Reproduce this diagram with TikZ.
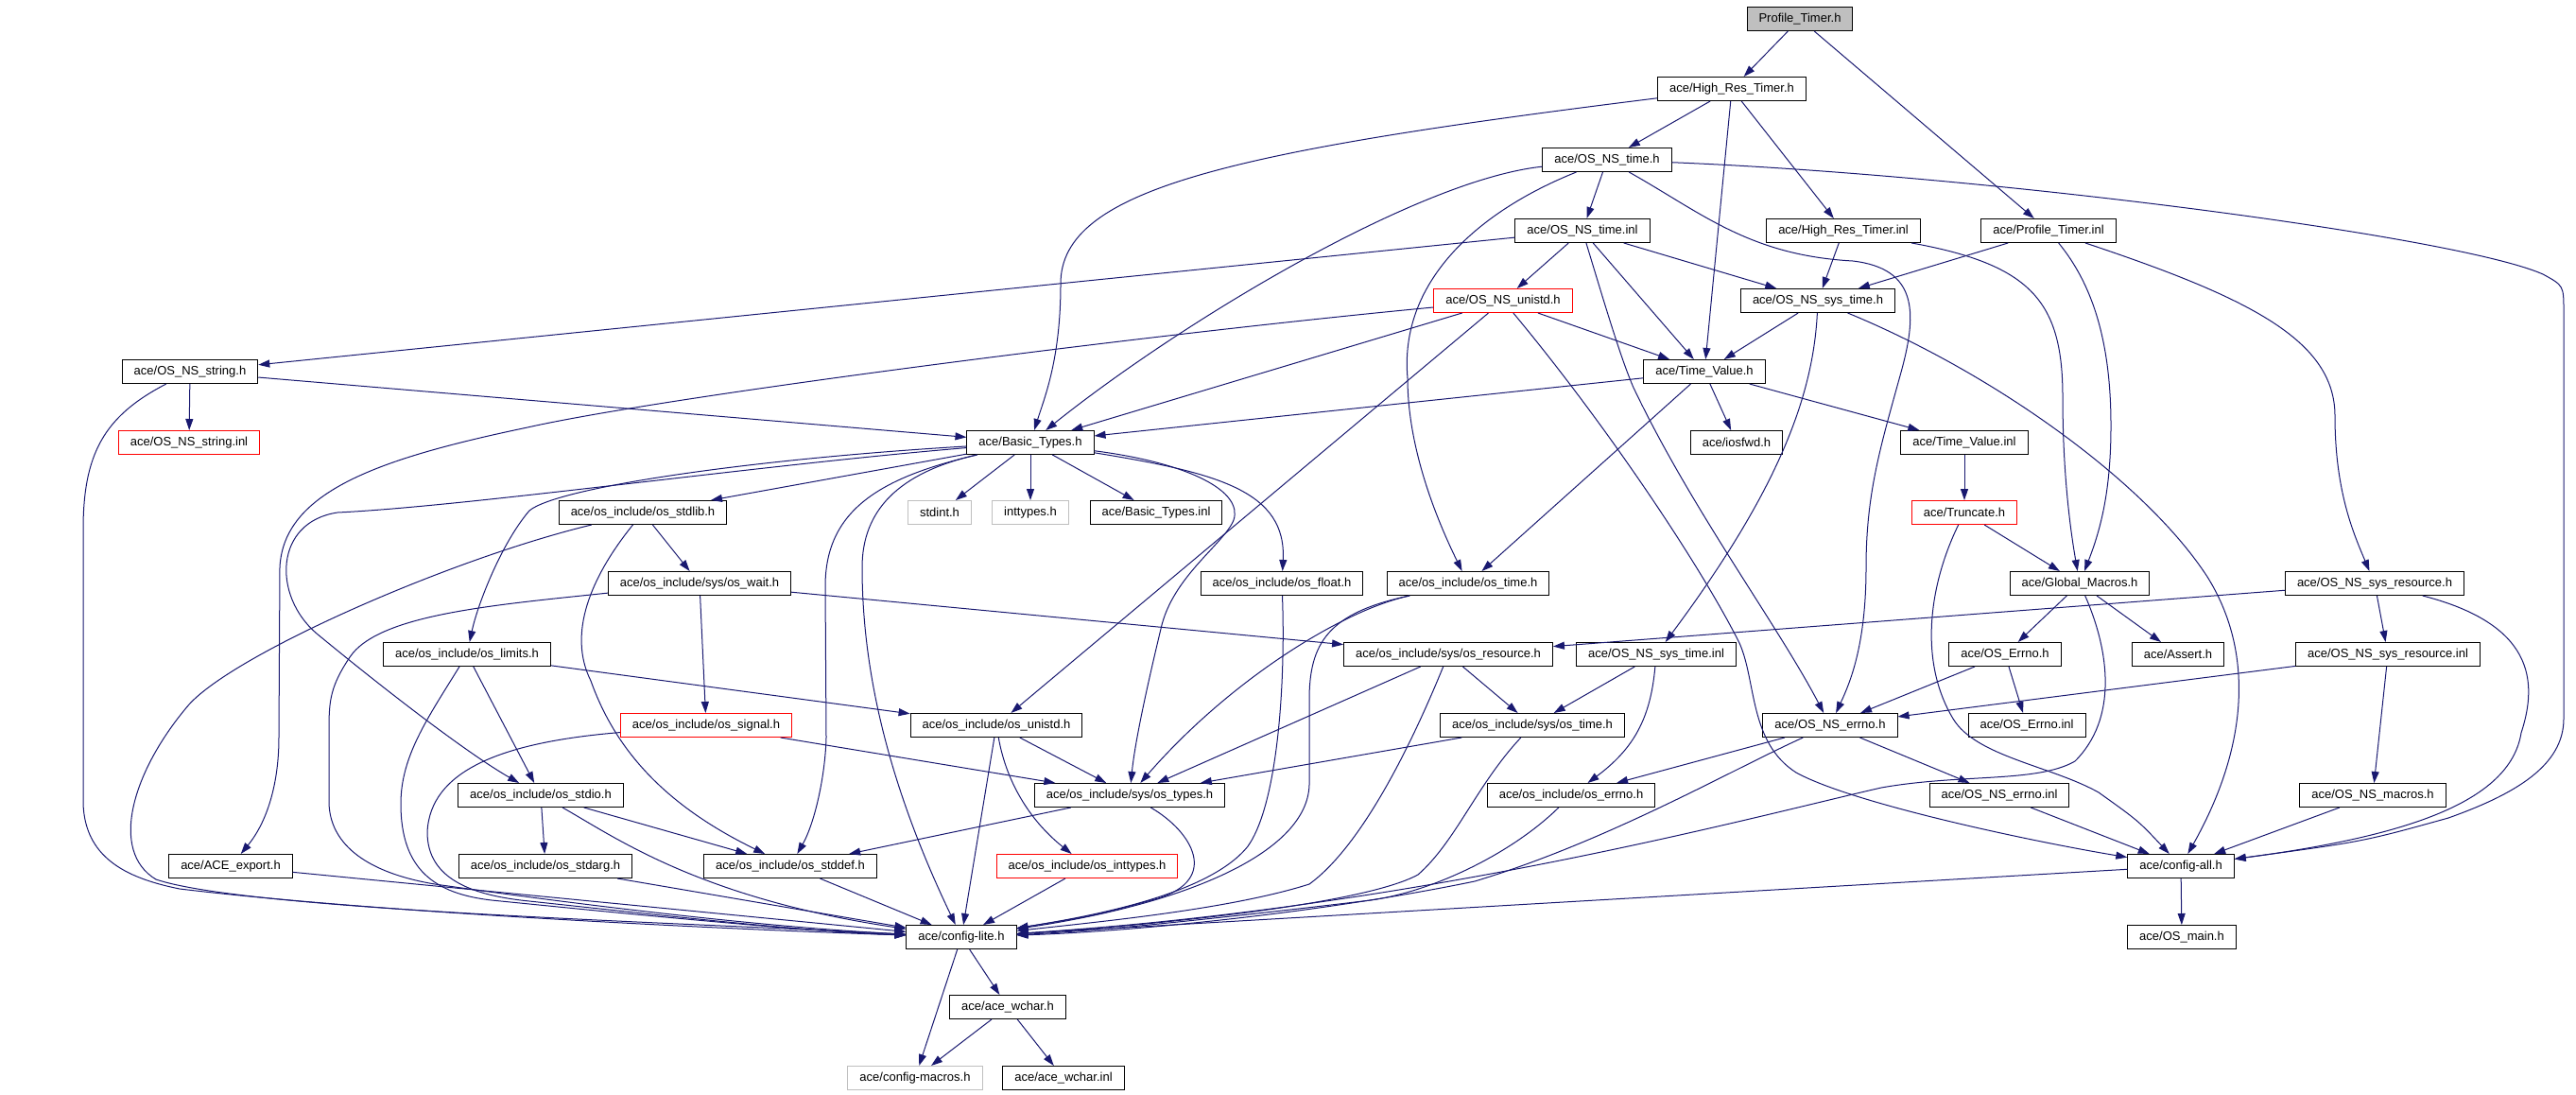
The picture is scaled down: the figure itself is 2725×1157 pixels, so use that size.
\documentclass[tikz,border=0pt]{standalone}
\usepackage{fontspec}
\setmainfont{Liberation Sans}
\usetikzlibrary{arrows.meta}
\definecolor{edgeblue}{RGB}{25,25,112}
\definecolor{boxgrey}{RGB}{191,191,191}

\begin{document}
\begin{tikzpicture}[x=1pt,y=-1pt,
  box/.style={draw=black,line width=1pt,fill=white,inner xsep=12.5pt,inner ysep=2pt,
    minimum height=25pt,font=\fontsize{13pt}{15pt}\selectfont},
  redbox/.style={box,draw=red},
  greybox/.style={box,draw=boxgrey},
  topbox/.style={box,fill=boxgrey},
  edge/.style={draw=edgeblue,line width=1pt,-{Triangle[length=12pt,width=8pt]}}]
\useasboundingbox (0,0) rectangle (2725,1157);

% rows of the include graph
\node[topbox] (pt) at (1904,20) {Profile\_Timer.h};
\node[box] (hrt) at (1832,94) {ace/High\_Res\_Timer.h};
\node[box] (nstime) at (1700,169) {ace/OS\_NS\_time.h};
\node[box] (nstimeinl) at (1674,244) {ace/OS\_NS\_time.inl};
\node[box] (hrtinl) at (1950,244) {ace/High\_Res\_Timer.inl};
\node[box] (ptinl) at (2167,244) {ace/Profile\_Timer.inl};
\node[redbox] (nsunistd) at (1590,318) {ace/OS\_NS\_unistd.h};
\node[box] (nssystime) at (1923,318) {ace/OS\_NS\_sys\_time.h};
\node[box] (nsstring) at (201,393) {ace/OS\_NS\_string.h};
\node[box] (tv) at (1803,393) {ace/Time\_Value.h};
\node[redbox] (nsstringinl) at (200,468) {ace/OS\_NS\_string.inl};
\node[box] (bt) at (1090,468) {ace/Basic\_Types.h};
\node[box] (iosfwd) at (1837,468) {ace/iosfwd.h};
\node[box] (tvinl) at (2078,468) {ace/Time\_Value.inl};
\node[box] (stdlib) at (680,542) {ace/os\_include/os\_stdlib.h};
\node[greybox] (stdint) at (994,542) {stdint.h};
\node[greybox] (inttypes) at (1090,542) {inttypes.h};
\node[box] (btinl) at (1223,542) {ace/Basic\_Types.inl};
\node[redbox] (trunc) at (2078,542) {ace/Truncate.h};
\node[box] (wait) at (740,617) {ace/os\_include/sys/os\_wait.h};
\node[box] (float) at (1356,617) {ace/os\_include/os\_float.h};
\node[box] (ostime) at (1553,617) {ace/os\_include/os\_time.h};
\node[box] (gm) at (2200,617) {ace/Global\_Macros.h};
\node[box] (nssysres) at (2512,617) {ace/OS\_NS\_sys\_resource.h};
\node[box] (limits) at (494,692) {ace/os\_include/os\_limits.h};
\node[box] (resource) at (1532,692) {ace/os\_include/sys/os\_resource.h};
\node[box] (nssystimeinl) at (1752,692) {ace/OS\_NS\_sys\_time.inl};
\node[box] (errnoh) at (2121,692) {ace/OS\_Errno.h};
\node[box] (assert) at (2304,692) {ace/Assert.h};
\node[box] (nssysresinl) at (2526,692) {ace/OS\_NS\_sys\_resource.inl};
\node[redbox] (signal) at (747,767) {ace/os\_include/os\_signal.h};
\node[box] (unistd) at (1054,767) {ace/os\_include/os\_unistd.h};
\node[box] (systime) at (1621,767) {ace/os\_include/sys/os\_time.h};
\node[box] (nserrno) at (1936,767) {ace/OS\_NS\_errno.h};
\node[box] (errnoinl) at (2144,767) {ace/OS\_Errno.inl};
\node[box] (stdio) at (572,841) {ace/os\_include/os\_stdio.h};
\node[box] (types) at (1195,841) {ace/os\_include/sys/os\_types.h};
\node[box] (oserrno) at (1662,841) {ace/os\_include/os\_errno.h};
\node[box] (nserrnoinl) at (2115,841) {ace/OS\_NS\_errno.inl};
\node[box] (nsmacros) at (2510,841) {ace/OS\_NS\_macros.h};
\node[box] (export) at (244,916) {ace/ACE\_export.h};
\node[box] (stdarg) at (577,916) {ace/os\_include/os\_stdarg.h};
\node[box] (stddef) at (836,916) {ace/os\_include/os\_stddef.h};
\node[redbox] (inttypesh) at (1150,916) {ace/os\_include/os\_inttypes.h};
\node[box] (configall) at (2307,916) {ace/config-all.h};
\node[box] (configlite) at (1017,991) {ace/config-lite.h};
\node[box] (osmain) at (2308,991) {ace/OS\_main.h};
\node[box] (wchar) at (1066,1065) {ace/ace\_wchar.h};
\node[greybox] (macros) at (968,1140) {ace/config-macros.h};
\node[box] (wcharinl) at (1125,1140) {ace/ace\_wchar.inl};

% straight includes
\draw[edge] (pt) -- (hrt);
\draw[edge] (pt) -- (ptinl);
\draw[edge] (hrt) -- (nstime);
\draw[edge] (hrt) -- (tv);
\draw[edge] (hrt) -- (hrtinl);
\draw[edge] (nstime) -- (nstimeinl);
\draw[edge] (nstimeinl) -- (nsunistd);
\draw[edge] (nstimeinl) -- (nssystime);
\draw[edge] (nstimeinl) -- (tv);
\draw[edge] (nstimeinl) -- (nsstring);
\draw[edge] (hrtinl) -- (nssystime);
\draw[edge] (ptinl) -- (nssystime);
\draw[edge] (nsunistd) -- (tv);
\draw[edge] (nsunistd) -- (bt);
\draw[edge] (nsunistd) -- (unistd);
\draw[edge] (nssystime) -- (tv);
\draw[edge] (nsstring) -- (nsstringinl);
\draw[edge] (nsstring) -- (bt);
\draw[edge] (tv) -- (bt);
\draw[edge] (tv) -- (iosfwd);
\draw[edge] (tv) -- (tvinl);
\draw[edge] (tv) -- (ostime);
\draw[edge] (tvinl) -- (trunc);
\draw[edge] (trunc) -- (gm);
\draw[edge] (bt) -- (stdint);
\draw[edge] (bt) -- (inttypes);
\draw[edge] (bt) -- (btinl);
\draw[edge] (bt) -- (stdlib);
\draw[edge] (stdlib) -- (wait);
\draw[edge] (wait) -- (signal);
\draw[edge] (wait) -- (resource);
\draw[edge] (gm) -- (errnoh);
\draw[edge] (gm) -- (assert);
\draw[edge] (nssysres) -- (nssysresinl);
\draw[edge] (nssysres) -- (resource);
\draw[edge] (limits) -- (unistd);
\draw[edge] (limits) -- (stdio);
\draw[edge] (resource) -- (systime);
\draw[edge] (resource) -- (types);
\draw[edge] (nssystimeinl) -- (systime);
\draw[edge] (errnoh) -- (errnoinl);
\draw[edge] (errnoh) -- (nserrno);
\draw[edge] (nssysresinl) -- (nserrno);
\draw[edge] (nssysresinl) -- (nsmacros);
\draw[edge] (signal) -- (types);
\draw[edge] (unistd) -- (types);
\draw[edge] (unistd) -- (configlite);
\draw[edge] (systime) -- (types);
\draw[edge] (nserrno) -- (oserrno);
\draw[edge] (nserrno) -- (nserrnoinl);
\draw[edge] (types) -- (stddef);
\draw[edge] (stdio) -- (stdarg);
\draw[edge] (stdio) -- (stddef);
\draw[edge] (stdarg) -- (configlite);
\draw[edge] (stddef) -- (configlite);
\draw[edge] (inttypesh) -- (configlite);
\draw[edge] (export) -- (configlite);
\draw[edge] (configall) -- (configlite);
\draw[edge] (configall) -- (osmain);
\draw[edge] (nserrnoinl) -- (configall);
\draw[edge] (nsmacros) -- (configall);
\draw[edge] (configlite) -- (wchar);
\draw[edge] (configlite) -- (macros);
\draw[edge] (wchar) -- (macros);
\draw[edge] (wchar) -- (wcharinl);

% curved includes
\draw[edge] (hrt) .. controls (1300,160) and (1122,200) .. (1122,300) .. controls (1122,380) and (1105,420) .. (bt);
\draw[edge] (nstime) .. controls (1500,190) and (1250,340) .. (bt);
\draw[edge] (nstime) .. controls (1560,225) and (1480,300) .. (1489,400) .. controls (1489,480) and (1525,560) .. (ostime);
\draw[edge] (nstime) .. controls (1800,225) and (1850,270) .. (1960,276) .. controls (2028,284) and (2028,330) .. (2012,390)
  .. controls (1990,470) and (1974,520) .. (1974,600) .. controls (1974,680) and (1958,720) .. (nserrno);
\draw[edge] (nstime) .. controls (2100,185) and (2600,250) .. (2690,290) .. controls (2712,302) .. (2712,330) -- (2712,760)
  .. controls (2712,810) and (2660,840) .. (2590,865) .. controls (2500,890) .. (configall);
\draw[edge] (nstimeinl) .. controls (1700,330) and (1715,380) .. (1728,410) .. controls (1790,540) and (1880,660) .. (nserrno);
\draw[edge] (hrtinl) .. controls (2150,280) and (2182,320) .. (2182,420) .. controls (2182,500) and (2190,560) .. (gm);
\draw[edge] (ptinl) .. controls (2213,300) and (2233,360) .. (2233,450) .. controls (2233,520) and (2222,560) .. (gm);
\draw[edge] (ptinl) .. controls (2380,315) and (2470,360) .. (2470,440) .. controls (2470,520) and (2490,565) .. (nssysres);
\draw[edge] (nsunistd) .. controls (1700,450) and (1800,600) .. (1840,680) .. controls (1858,720) and (1850,785) .. (1900,817)
  .. controls (1960,850) and (2150,890) .. (configall);
\draw[edge] (nsunistd) .. controls (1200,355) and (700,420) .. (558,452) .. controls (400,485) and (300,520) .. (296,600)
  -- (295,780) .. controls (295,830) and (282,870) .. (export);
\draw[edge] (nssystime) .. controls (1918,420) and (1880,520) .. (nssystimeinl);
\draw[edge] (nssystime) .. controls (2110,395) and (2270,510) .. (2335,610) .. controls (2385,690) and (2378,790) .. (configall);
\draw[edge] (nsstring) .. controls (110,440) and (88,480) .. (88,560) -- (88,850) .. controls (90,905) and (130,928) .. (190,940)
  .. controls (400,965) and (750,982) .. (configlite);
\draw[edge] (trunc) .. controls (2040,620) and (2030,700) .. (2066,760) .. controls (2090,800) and (2170,810) .. (2220,838)
  .. controls (2262,868) .. (configall);
\draw[edge] (bt) .. controls (800,485) and (590,515) .. (560,540) .. controls (530,575) and (505,640) .. (limits);
\draw[edge] (bt) .. controls (800,492) and (500,535) .. (357,542) .. controls (290,552) and (288,630) .. (335,670)
  .. controls (420,740) and (500,800) .. (stdio);
\draw[edge] (bt) .. controls (930,505) and (873,540) .. (873,620) -- (874,780) .. controls (873,820) and (862,870) .. (stddef);
\draw[edge] (bt) .. controls (950,500) and (912,540) .. (912,600) .. controls (912,700) and (935,820) .. (configlite);
\draw[edge] (bt) .. controls (1260,490) and (1315,520) .. (1305,550) .. controls (1295,575) and (1240,610) .. (1228,665)
  .. controls (1210,740) and (1200,790) .. (types);
\draw[edge] (bt) .. controls (1290,500) and (1361,520) .. (float);
\draw[edge] (stdlib) .. controls (480,590) and (250,690) .. (200,745) .. controls (140,815) and (115,900) .. (165,930)
  .. controls (260,962) and (700,975) .. (configlite);
\draw[edge] (stdlib) .. controls (625,610) and (600,670) .. (625,720) .. controls (650,790) and (700,850) .. (stddef);
\draw[edge] (wait) .. controls (520,640) and (400,650) .. (370,695) .. controls (350,725) and (348,740) .. (348,770) -- (348,850)
  .. controls (350,900) and (400,925) .. (460,935) .. controls (600,955) and (800,980) .. (configlite);
\draw[edge] (limits) .. controls (452,760) and (424,800) .. (424,850) .. controls (424,920) and (460,945) .. (520,952)
  .. controls (650,965) and (850,985) .. (configlite);
\draw[edge] (signal) .. controls (530,785) and (455,815) .. (452,880) .. controls (452,930) and (500,947) .. (560,953)
  .. controls (700,968) and (850,985) .. (configlite);
\draw[edge] (stdio) .. controls (650,885) and (740,950) .. (configlite);
\draw[edge] (types) .. controls (1262,880) and (1290,930) .. (1225,950) .. controls (1160,968) .. (configlite);
\draw[edge] (float) .. controls (1360,720) and (1352,850) .. (1320,895) .. controls (1280,945) and (1160,968) .. (configlite);
\draw[edge] (ostime) .. controls (1405,648) and (1385,680) .. (1385,740) -- (1385,830) .. controls (1383,900) and (1260,955) .. (configlite);
\draw[edge] (ostime) .. controls (1420,645) and (1300,720) .. (types);
\draw[edge] (resource) .. controls (1492,790) and (1440,895) .. (1385,935) .. controls (1300,962) and (1160,975) .. (configlite);
\draw[edge] (systime) .. controls (1562,830) and (1540,890) .. (1500,925) .. controls (1440,958) and (1200,980) .. (configlite);
\draw[edge] (oserrno) .. controls (1602,900) and (1520,942) .. (1450,952) .. controls (1300,970) and (1160,985) .. (configlite);
\draw[edge] (nserrno) .. controls (1830,815) and (1700,890) .. (1560,932) .. controls (1400,965) and (1200,985) .. (configlite);
\draw[edge] (gm) .. controls (2232,690) and (2240,760) .. (2195,805) .. controls (2155,828) and (2075,818) .. (1990,833)
  .. controls (1850,865) and (1500,960) .. (configlite);
\draw[edge] (nssysres) .. controls (2680,660) and (2685,720) .. (2667,775) .. controls (2655,850) and (2540,885) .. (configall);
\draw[edge] (unistd) .. controls (1065,830) and (1092,870) .. (inttypesh);
\draw[edge] (nssystimeinl) .. controls (1746,760) and (1728,792) .. (oserrno);
\end{tikzpicture}
\end{document}
